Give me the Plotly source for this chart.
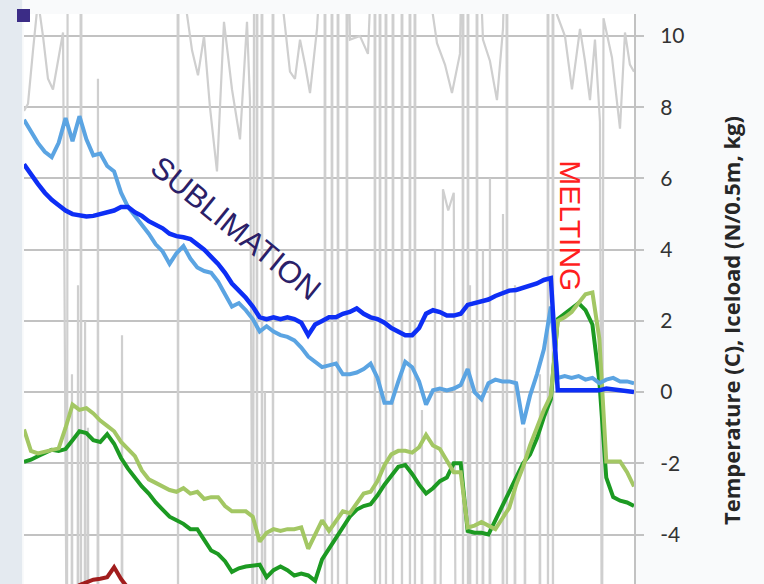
import plotly.graph_objects as go

# Hourly samples (hour index 0..88)
hours = list(range(89))

iceload_a = [6.4, 6.1, 5.85, 5.6, 5.4, 5.25, 5.1, 5.0, 4.95, 4.93,
             4.95, 5.0, 5.05, 5.1, 5.2, 5.2, 5.05, 4.95, 4.8, 4.7,
             4.6, 4.45, 4.38, 4.35, 4.3, 4.15, 4.0, 3.8, 3.6, 3.35,
             3.05, 2.85, 2.65, 2.4, 2.1, 2.05, 2.1, 2.05, 2.1, 2.05,
             1.95, 1.6, 1.9, 2.0, 2.1, 2.1, 2.2, 2.25, 2.35, 2.2,
             2.1, 2.05, 1.95, 1.8, 1.7, 1.6, 1.6, 1.8, 2.2, 2.3,
             2.25, 2.15, 2.15, 2.2, 2.45, 2.5, 2.55, 2.6, 2.7, 2.78,
             2.85, 2.87, 2.92, 3.0, 3.05, 3.15, 3.2, 0.05, 0.05, 0.05,
             0.05, 0.05, 0.05, 0.05, 0.1, 0.08, 0.05, 0.05, 0.0]

iceload_b = [7.65, 7.3, 7.0, 6.75, 6.6, 7.0, 7.7, 7.05, 7.75, 7.1,
             6.65, 6.7, 6.35, 6.2, 5.6, 5.2, 4.95, 4.7, 4.45, 4.15,
             3.95, 3.6, 3.9, 4.1, 3.75, 3.5, 3.4, 3.35, 3.1, 2.75,
             2.4, 2.5, 2.3, 2.05, 1.7, 1.85, 1.7, 1.6, 1.55, 1.45,
             1.25, 1.0, 0.85, 0.7, 0.75, 0.8, 0.5, 0.5, 0.55, 0.65,
             0.8, 0.4, -0.3, -0.3, 0.3, 0.85, 0.7, 0.3, -0.35, 0.05,
             0.1, 0.05, 0.1, 0.2, 0.65, 0.0, -0.2, 0.25, 0.35, 0.3,
             0.3, 0.25, -0.9, -0.1, 0.5, 1.2, 2.4, 0.4, 0.45, 0.4,
             0.45, 0.35, 0.4, 0.25, 0.35, 0.4, 0.3, 0.3, 0.25]

temp_a = [-1.96, -1.9, -1.8, -1.7, -1.62, -1.65, -1.6, -1.35, -1.1, -1.15,
          -1.35, -1.4, -1.18, -1.45, -1.85, -2.15, -2.4, -2.65, -2.85, -3.1,
          -3.3, -3.5, -3.6, -3.7, -3.85, -3.85, -4.15, -4.45, -4.55, -4.75,
          -5.05, -4.95, -4.9, -4.88, -4.85, -5.2, -5.0, -4.9, -5.0, -5.15,
          -5.1, -5.15, -5.3, -4.7, -4.4, -4.1, -3.85, -3.5, -3.3, -3.2,
          -3.15, -2.9, -2.6, -2.35, -2.1, -2.05, -2.3, -2.6, -2.85, -2.7,
          -2.5, -2.4, -2.0, -2.0, -3.9, -3.95, -3.95, -4.0, -3.6, -3.2,
          -2.85, -2.4, -2.0, -1.75, -1.3, -0.7, -0.2, 2.05, 2.2, 2.35,
          2.5, 2.3, 1.9, 0.3, -2.4, -2.95, -3.05, -3.1, -3.2]

temp_b = [-1.05, -1.65, -1.72, -1.68, -1.62, -1.58, -1.0, -0.35, -0.5, -0.45,
          -0.6, -0.8, -0.95, -1.1, -1.4, -1.6, -1.8, -2.2, -2.45, -2.55,
          -2.65, -2.75, -2.8, -2.7, -2.85, -2.8, -3.0, -2.95, -2.95, -3.2,
          -3.35, -3.35, -3.35, -3.5, -4.2, -3.95, -3.85, -3.9, -3.85, -3.85,
          -3.8, -4.4, -4.0, -3.6, -3.9, -3.6, -3.35, -3.4, -3.1, -2.85,
          -2.8, -2.5, -2.05, -1.75, -1.65, -1.65, -1.7, -1.55, -1.2, -1.5,
          -1.6, -1.9, -2.25, -2.25, -3.8, -3.75, -3.65, -3.75, -3.85, -3.55,
          -3.25, -2.6, -2.1, -1.5, -1.0, -0.5, -0.1, 2.0, 2.1, 2.25,
          2.5, 2.75, 2.8, 1.5, -1.95, -1.95, -1.95, -2.25, -2.65]

# Third temperature sensor (mostly below the visible range)
temp_c_hours = list(range(21))
temp_c = [-5.9, -5.9, -5.8, -5.8, -5.7, -5.7, -5.6, -5.55, -5.42, -5.33,
          -5.27, -5.24, -5.2, -4.92, -5.25, -5.5, -5.7, -5.9, -6.0, -6.0, -6.1]

# Raw load-cell readings (noisy, frequently saturating)
raw_a_hours = [0, 0.58, 1.30, 2.02, 2.74, 3.46, 4.18, 4.90, 5.63, 6.20, 6.30,
               8.16, 8.22, 8.28, 22.16, 22.22, 22.28,
               23.23, 24.24, 25.10, 25.97, 26.83, 27.84, 28.85, 30.01, 31.16, 32.17, 32.60,
               33.03, 33.20, 33.55, 33.61, 33.67, 34.27, 34.33, 34.39, 35.86, 35.92, 35.98,
               37.36, 38.37, 39.09, 39.82, 40.54, 41.26, 42.27,
               43.36, 43.42, 43.48, 44.37, 44.43, 44.49, 45.24, 45.30, 45.36, 46.53, 46.59, 46.65,
               47.03, 48.47, 49.62, 50.20,
               50.57, 50.63, 50.69, 51.30, 51.36, 51.42, 52.16, 52.22, 52.28, 53.17, 53.23, 53.29,
               54.47, 54.53, 54.59, 55.62, 55.68, 55.74, 56.34, 56.40, 56.46,
               59.58, 60.73, 61.74, 62.89,
               63.27, 63.33, 63.39, 63.99, 64.05, 64.11, 65.29, 65.35, 65.41,
               66.21, 67.22, 68.23, 69.10,
               69.61, 69.67, 69.73, 75.53, 75.59, 75.65, 76.25, 76.31, 76.37,
               76.89, 78.04, 79.05, 80.21, 80.93, 81.65, 82.37, 83.09, 83.38, 83.60,
               84.82, 85.98, 86.70, 87.41, 88.0]
raw_a = [7.9, 8.1, 9.6, 11.0, 10.0, 8.8, 8.5, 9.3, 10.1, -9, 14,
         14, -9, 14, 14, -9, 14,
         11.0, 9.6, 8.9, 10.0, 8.0, 6.2, 10.4, 8.5, 7.1, 10.4, 8.2,
         -9, 14, 14, -9, 14, 14, -9, 14, 14, -9, 14,
         10.8, 9.0, 8.8, 9.9, 9.2, 8.4, 10.2,
         14, -9, 14, 14, -9, 14, 14, -9, 14, 14, -9, 14,
         9.9, 10.0, 9.5, 12.0,
         14, -9, 14, 14, -9, 14, 14, -9, 14, 14, -9, 14,
         14, -9, 14, 14, -9, 14, 14, -9, 14,
         9.8, 9.2, 8.4, 9.5,
         14, -9, 14, 14, -9, 14, 14, -9, 14,
         9.9, 9.3, 8.2, 10.2,
         14, -9, 14, 14, -9, 14, 14, -9, 14,
         10.6, 10.0, 8.5, 10.2, 9.3, 8.2, 9.9, 7.6, -9, 10.5,
         9.4, 7.4, 10.1, 9.2, 9.0]

raw_b_hours = [0, 6.86, 6.92, 6.98, 7.73, 7.79, 7.85, 8.75, 8.81, 8.87, 9.17, 9.23, 9.29,
               10.61, 10.67, 10.73, 14.08, 14.14, 14.20, 34.70, 34.76, 34.82,
               57.35, 57.41, 57.47, 59.23, 59.29, 59.35, 60.00, 60.44, 61.20, 62.00, 62.30,
               64.28, 64.34, 64.40, 66.15, 66.21, 66.27, 67.16, 67.22, 67.28,
               69.04, 69.10, 69.16, 70.77, 70.83, 70.89, 72.21, 72.27, 72.33,
               74.37, 74.43, 74.49, 88.0]
raw_b = [-9, -9, 0.5, -9, -9, 3.0, -9, -9, 2.0, -9, -9, -1.0, -9,
         -9, 8.8, -9, -9, 1.6, -9, -9, 0.0, -9,
         -9, -0.5, -9, -9, 4.0, -9, -9, 5.7, 5.1, 5.6, -9,
         -9, 3.0, -9, -9, 4.0, -9, -9, 6.0, -9,
         -9, 5.0, -9, -9, 3.0, -9, -9, -1.0, -9,
         -9, 0.5, -9, -9]

tick_values = [-4, -2, 0, 2, 4, 6, 8, 10]
tick_labels = ["-4", "-2", "0", "2", "4", "6", "8", "10"]

GRID = "#c2c2c2"
RAW = "#cfcfcf"

fig = go.Figure()
fig.add_trace(go.Scatter(x=raw_b_hours, y=raw_b, mode="lines",
                         line=dict(color=RAW, width=2.2)))
fig.add_trace(go.Scatter(x=raw_a_hours, y=raw_a, mode="lines",
                         line=dict(color=RAW, width=2.2)))
fig.add_trace(go.Scatter(x=temp_c_hours, y=temp_c, mode="lines",
                         line=dict(color="#a11d1d", width=4)))
fig.add_trace(go.Scatter(x=hours, y=temp_a, mode="lines",
                         line=dict(color="#1c9a22", width=4)))
fig.add_trace(go.Scatter(x=hours, y=temp_b, mode="lines",
                         line=dict(color="#a3c764", width=4)))
fig.add_trace(go.Scatter(x=hours, y=iceload_b, mode="lines",
                         line=dict(color="#5ba4e2", width=4)))
fig.add_trace(go.Scatter(x=hours, y=iceload_a, mode="lines",
                         line=dict(color="#0d2ef5", width=4.5)))

fig.update_layout(
    width=764, height=584,
    margin=dict(l=24, r=130, t=14, b=0),
    paper_bgcolor="#f9fafb",
    plot_bgcolor="#ffffff",
    showlegend=False,
    hovermode=False,
    xaxis=dict(range=[0, 88], visible=False),
    yaxis=dict(
        side="right", range=[-5.39, 10.62],
        tickvals=tick_values, ticktext=tick_labels,
        showgrid=True, gridcolor=GRID, gridwidth=2,
        zeroline=False,
        showline=True, linecolor=GRID, linewidth=2,
        ticks="outside", ticklen=8, tickcolor=GRID, tickwidth=2,
        ticklabelstandoff=12,
        tickfont=dict(family="Lato", size=21, color="#333333"),
    ),
    shapes=[
        dict(type="rect", xref="paper", yref="paper", x0=-0.05, x1=-0.003,
             y0=-0.01, y1=1.03, fillcolor="#e4eaf0", line_width=0, layer="below"),
        dict(type="rect", xref="paper", yref="paper", x0=-0.0115, x1=0.0098,
             y0=0.986, y1=1.0088, fillcolor="#3b2c86", line_width=0),
    ],
    annotations=[
        dict(text="Temperature (C), Iceload (N/0.5m, kg)", xref="paper", yref="paper",
             x=1.159, y=0.463, xanchor="center", yanchor="middle",
             showarrow=False, textangle=-90,
             font=dict(family="Open Sans", size=22, color="#262626", weight="bold")),
        dict(text="SUBLIMATION", x=30.6, y=4.6, xref="x", yref="y", showarrow=False,
             xanchor="center", yanchor="middle",
             textangle=39, font=dict(family="Liberation Sans", size=31, color="#2a2068")),
        dict(text="MELTING", x=78.9, y=4.66, xref="x", yref="y", showarrow=False,
             xanchor="center", yanchor="middle",
             textangle=90, font=dict(family="Liberation Sans", size=30, color="#ff1f1f")),
    ],
)

fig.write_html("out.html")
